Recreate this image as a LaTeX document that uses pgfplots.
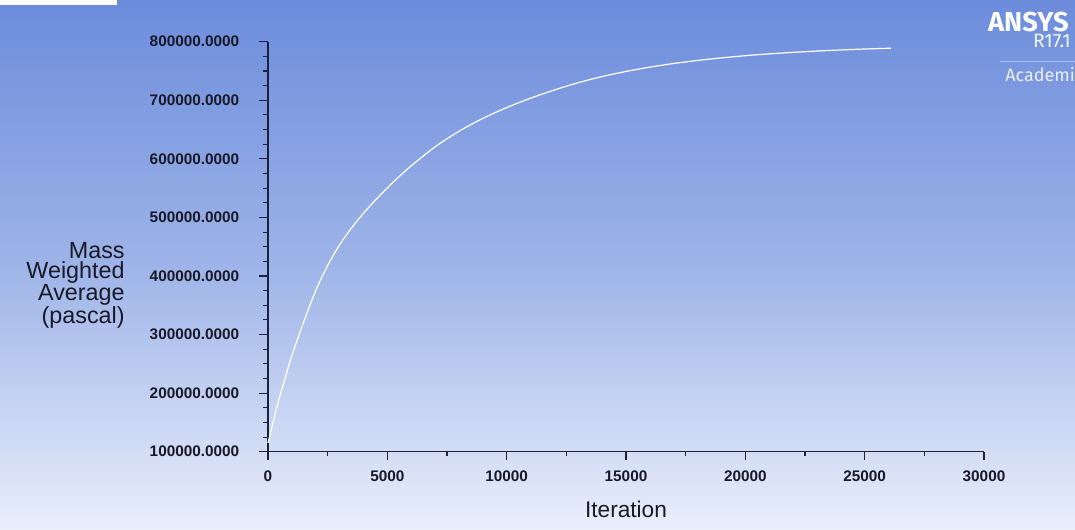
\documentclass[border=0pt]{standalone}
\usepackage{pgfplots}
\pgfplotsset{compat=1.18}
\usepackage{fontspec}
\setmainfont{Liberation Sans}
\newfontfamily\logofont{Fira Sans}
\definecolor{bgtop}{RGB}{108,140,220}
\definecolor{bgmid}{RGB}{158,180,232}
\definecolor{bgbot}{RGB}{233,238,250}
\definecolor{axiscol}{RGB}{28,34,62}
\definecolor{ticktext}{RGB}{25,25,40}
\begin{document}
\begin{tikzpicture}[x=0.75pt,y=0.75pt]
\useasboundingbox (0,0) rectangle (1075,530);
\clip (0,0) rectangle (1075,530);
\shade[top color=bgtop, bottom color=bgbot, middle color=bgmid] (0,0) rectangle (1075,530);
\fill[white] (0,525) rectangle (117,530);
% logo
\node[anchor=base east, inner sep=0, text=white, font=\logofont\bfseries\fontsize{20.5}{20.5}\selectfont] at (1069,498) {ANSYS};
\node[anchor=base east, inner sep=0, text=white!92!bgtop, font=\logofont\fontsize{14.5}{14.5}\selectfont] at (1071,482.5) {R17.1};
\draw[white!40!bgtop, line width=0.6pt] (1000,468.3) -- (1075,468.3);
\node[anchor=base west, inner sep=0, text=white!85!bgtop, font=\logofont\fontsize{13.5}{13.5}\selectfont] at (1005,448.3) {Academic};
\begin{axis}[
  at={(201pt,58.725pt)}, anchor=south west,
  scale only axis, width=537pt, height=307.5pt,
  xmin=0, xmax=30000, ymin=100000, ymax=800000,
  enlargelimits=false, clip=false,
  axis lines*=left,
  axis line style={draw=axiscol, line width=1.1pt},
  tick style={draw=axiscol, line width=0.8pt},
  tick align=outside,
  major tick length=6.5pt, minor tick length=3.5pt,
  xtick={0,5000,10000,15000,20000,25000,30000},
  ytick={100000,200000,300000,400000,500000,600000,700000,800000},
  minor x tick num=1, minor y tick num=3,
  scaled x ticks=false, scaled y ticks=false,
  /pgf/number format/assume math mode=true,
  xticklabel style={font=\bfseries\fontsize{11.5}{12}\selectfont, text=ticktext, yshift=-4.5pt, /pgf/number format/1000 sep={}},
  yticklabel style={font=\bfseries\fontsize{11.5}{12}\selectfont, text=ticktext, xshift=-11.5pt, /pgf/number format/fixed, /pgf/number format/fixed zerofill, /pgf/number format/precision=4, /pgf/number format/1000 sep={}},
  xlabel={Iteration},
  xlabel style={at={(axis description cs:0.5,0)}, anchor=base, yshift=-49pt, font=\fontsize{17}{17}\selectfont, text=ticktext},
  ylabel={Mass\\Weighted\\Average\\(pascal)},
  ylabel style={rotate=-90, at={(axis description cs:0,0.405)}, anchor=east, xshift=-104pt, align=right, font=\fontsize{17.5}{15}\selectfont, text=ticktext},
]
\addplot[white, line width=0.9pt, smooth, no markers] coordinates {
(0,115000) (250,156000) (500,195500) (750,230500) (1000,264000)
(1500,322000) (2000,375000) (2500,418000) (3000,453000) (3500,482000)
(4000,507000) (4500,529500) (5000,550500) (5500,570000) (6000,588000)
(7000,620500) (8000,647000) (9000,669000) (10000,687500) (11000,703500)
(12000,717500) (13000,730000) (14000,740500) (15000,749200) (16000,756600)
(17000,762800) (18000,768000) (19000,772400) (20000,776100) (21000,779200)
(22000,781800) (23000,784000) (24000,785900) (25000,787500) (26100,788900)
};
\end{axis}
\end{tikzpicture}
\end{document}
